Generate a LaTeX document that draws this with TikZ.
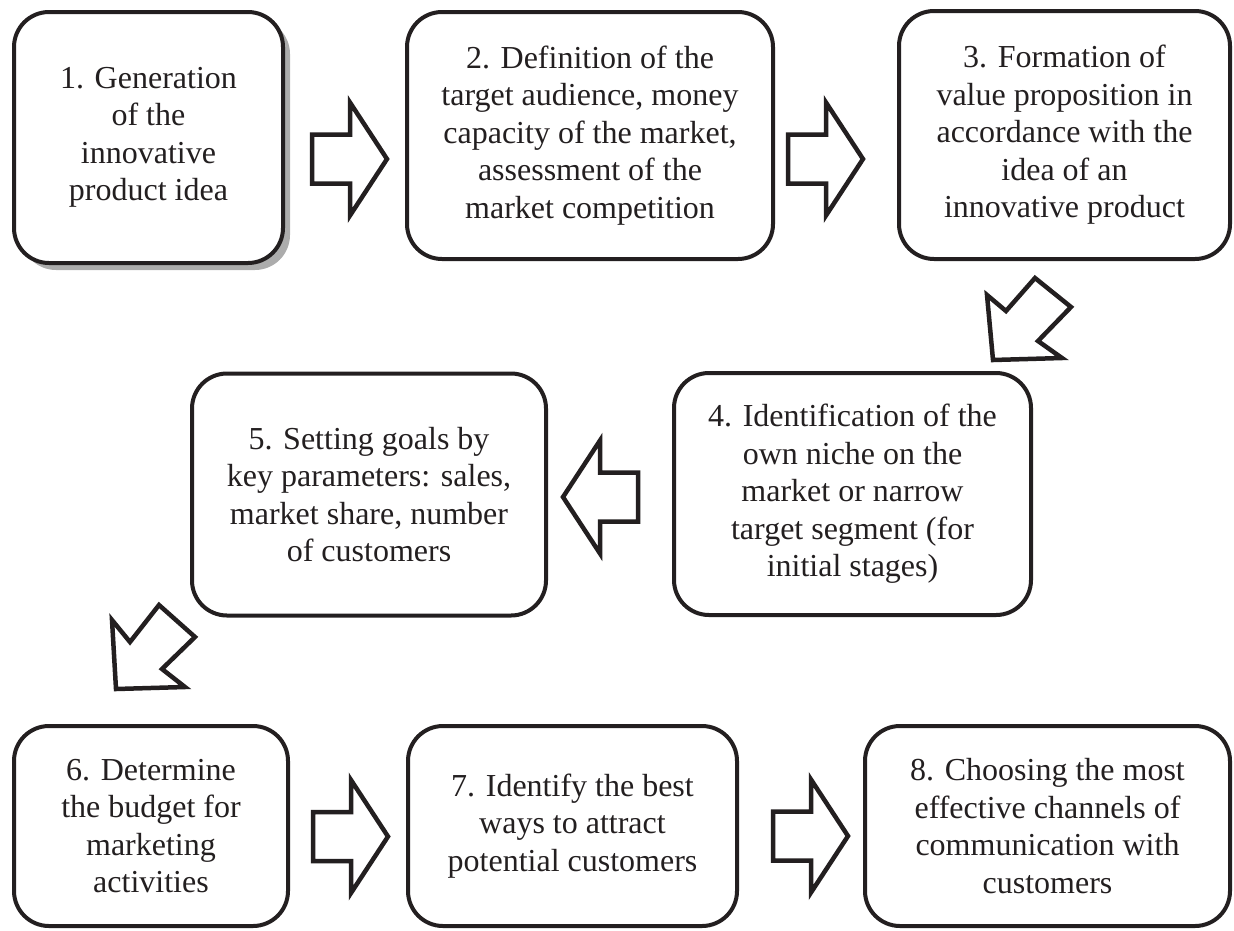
\documentclass[tikz,border=0pt]{standalone}
\usepackage{fontspec}
\setmainfont{Liberation Serif}
\usetikzlibrary{shadows}
\definecolor{ink}{HTML}{231F20}
\begin{document}
\begin{tikzpicture}[x=1pt,y=-1pt,
  box/.style={draw=ink, line width=4pt, rounded corners=35pt, fill=white,
    align=center, text=ink, inner sep=0pt,
    font=\fontsize{32}{37.5}\selectfont},
  barrow/.style={draw=ink, line width=4.5pt, fill=white, line join=miter},
  blockarrow/.pic={\path[barrow] (0,-24.5) -- (38,-24.5) -- (38,-56.5) -- (75,0)
      -- (38,56.5) -- (38,24.5) -- (0,24.5) -- cycle;}
]
\useasboundingbox (0,0) rectangle (1234,930);

% top row
\node[box, minimum width=269pt, minimum height=251pt,
  drop shadow={shadow xshift=7pt, shadow yshift=-7pt, fill=gray!65, opacity=1, draw=none}]
  (b1) at (148.5,137.5) {1. Generation\\of the\\innovative\\product idea};
\node[box, minimum width=366pt, minimum height=247pt] (b2) at (590,135.5)
  {2. Definition of the\\target audience, money\\capacity of the market,\\assessment of the\\market competition};
\node[box, minimum width=331pt, minimum height=248pt] (b3) at (1064.5,135)
  {3. Formation of\\value proposition in\\accordance with the\\idea of an\\innovative product};

% middle row
\node[box, minimum width=357pt, minimum height=242pt] (b4) at (852.5,494)
  {4. Identification of the\\own niche on the\\market or narrow\\target segment (for\\initial stages)};
\node[box, minimum width=354pt, minimum height=242pt] (b5) at (369,494.5)
  {5. Setting goals by\\key parameters: sales,\\market share, number\\of customers};

% bottom row
\node[box, minimum width=274pt, minimum height=200pt] (b6) at (151,826)
  {6. Determine\\the budget for\\marketing\\activities};
\node[box, minimum width=329pt, minimum height=200pt] (b7) at (572.5,826)
  {7. Identify the best\\ways to attract\\potential customers};
\node[box, minimum width=365pt, minimum height=200pt] (b8) at (1047.5,826)
  {8. Choosing the most\\effective channels of\\communication with\\customers};

% horizontal block arrows
\pic at (312,159) {blockarrow};
\pic at (788,159) {blockarrow};
\pic[rotate=180] at (638,497) {blockarrow};
\pic at (313,836.5) {blockarrow};
\pic at (773,836) {blockarrow};

% diagonal block arrows
\path[barrow] (993,360) -- (987,295) -- (1006,311) -- (1035,278) -- (1071,307)
  -- (1038,341) -- (1062,358) -- cycle;
\path[barrow] (116,689) -- (112,620) -- (130,642) -- (159,605) -- (195,637)
  -- (162,669) -- (185,687) -- cycle;
\end{tikzpicture}
\end{document}
